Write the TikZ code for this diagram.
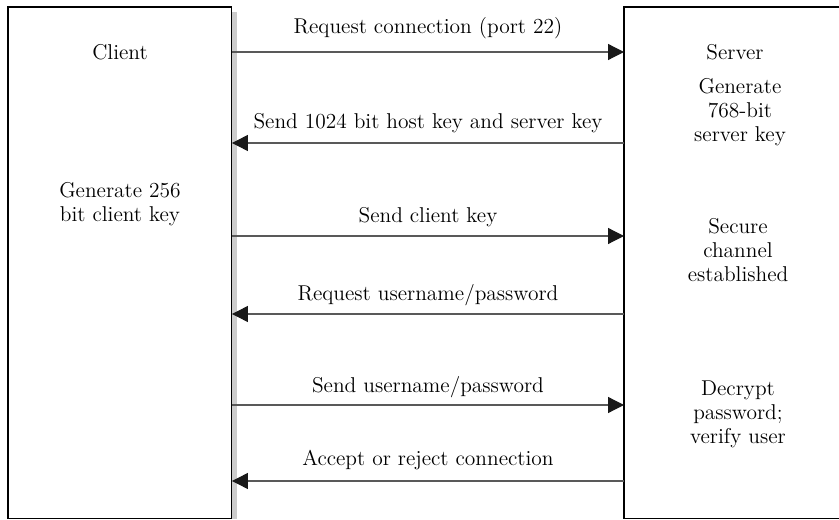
\documentclass[tikz,border=0pt]{standalone}
\usetikzlibrary{arrows.meta,positioning}

\tikzset{
  box/.style={draw, line width=0.6pt, inner sep=0pt, outer sep=0pt, anchor=north west},
  msg/.style={draw=black!65, line width=0.7pt, -{Triangle[length=0.32cm,width=0.32cm,color=black!90]}},
  lbl/.style={anchor=base, inner sep=0pt, font=\fontsize{12.2pt}{13.7pt}\selectfont},
  txt/.style={align=center, inner sep=0pt, font=\fontsize{12.2pt}{13.7pt}\selectfont}
}

\begin{document}
\begin{tikzpicture}[x=0.02cm,y=-0.02cm]
\useasboundingbox (0,0) rectangle (839,520);

% the two parties
\node[box, minimum width=4.48cm, minimum height=10.24cm] (client) at (8,7) {};
\node[box, minimum width=4.44cm, minimum height=10.24cm] (server) at (624,7) {};
\fill[black!20] ([xshift=0.3pt,yshift=-0.1cm]client.north east) rectangle ([xshift=0.1cm]client.south east);

\node[lbl] (clientname) at (120,60) {Client};
\node[txt] (clientkey) at (120,204) {Generate 256\\bit client key};

\node[lbl] (servername) at (735,60) {Server};
\node[txt] (serverkey) at (740,112) {Generate\\768-bit\\server key};
\node[txt] (channel) at (738,250) {Secure\\channel\\established};
\node[txt] (verify) at (738,414) {Decrypt\\password;\\verify user};

% messages
\coordinate (m1) at (0,52);
\coordinate (m2) at (0,143);
\coordinate (m3) at (0,236);
\coordinate (m4) at (0,314);
\coordinate (m5) at (0,405);
\coordinate (m6) at (0,481);

\draw[msg] (client.east |- m1) -- (server.west |- m1)
  node[lbl, midway, yshift=0.38cm] {Request connection (port 22)};
\draw[msg] (server.west |- m2) -- (client.east |- m2)
  node[lbl, midway, yshift=0.3cm] {Send 1024 bit host key and server key};
\draw[msg] (client.east |- m3) -- (server.west |- m3)
  node[lbl, midway, yshift=0.28cm] {Send client key};
\draw[msg] (server.west |- m4) -- (client.east |- m4)
  node[lbl, midway, yshift=0.28cm] {Request username/password};
\draw[msg] (client.east |- m5) -- (server.west |- m5)
  node[lbl, midway, yshift=0.26cm] {Send username/password};
\draw[msg] (server.west |- m6) -- (client.east |- m6)
  node[lbl, midway, yshift=0.32cm] {Accept or reject connection};
\end{tikzpicture}
\end{document}
